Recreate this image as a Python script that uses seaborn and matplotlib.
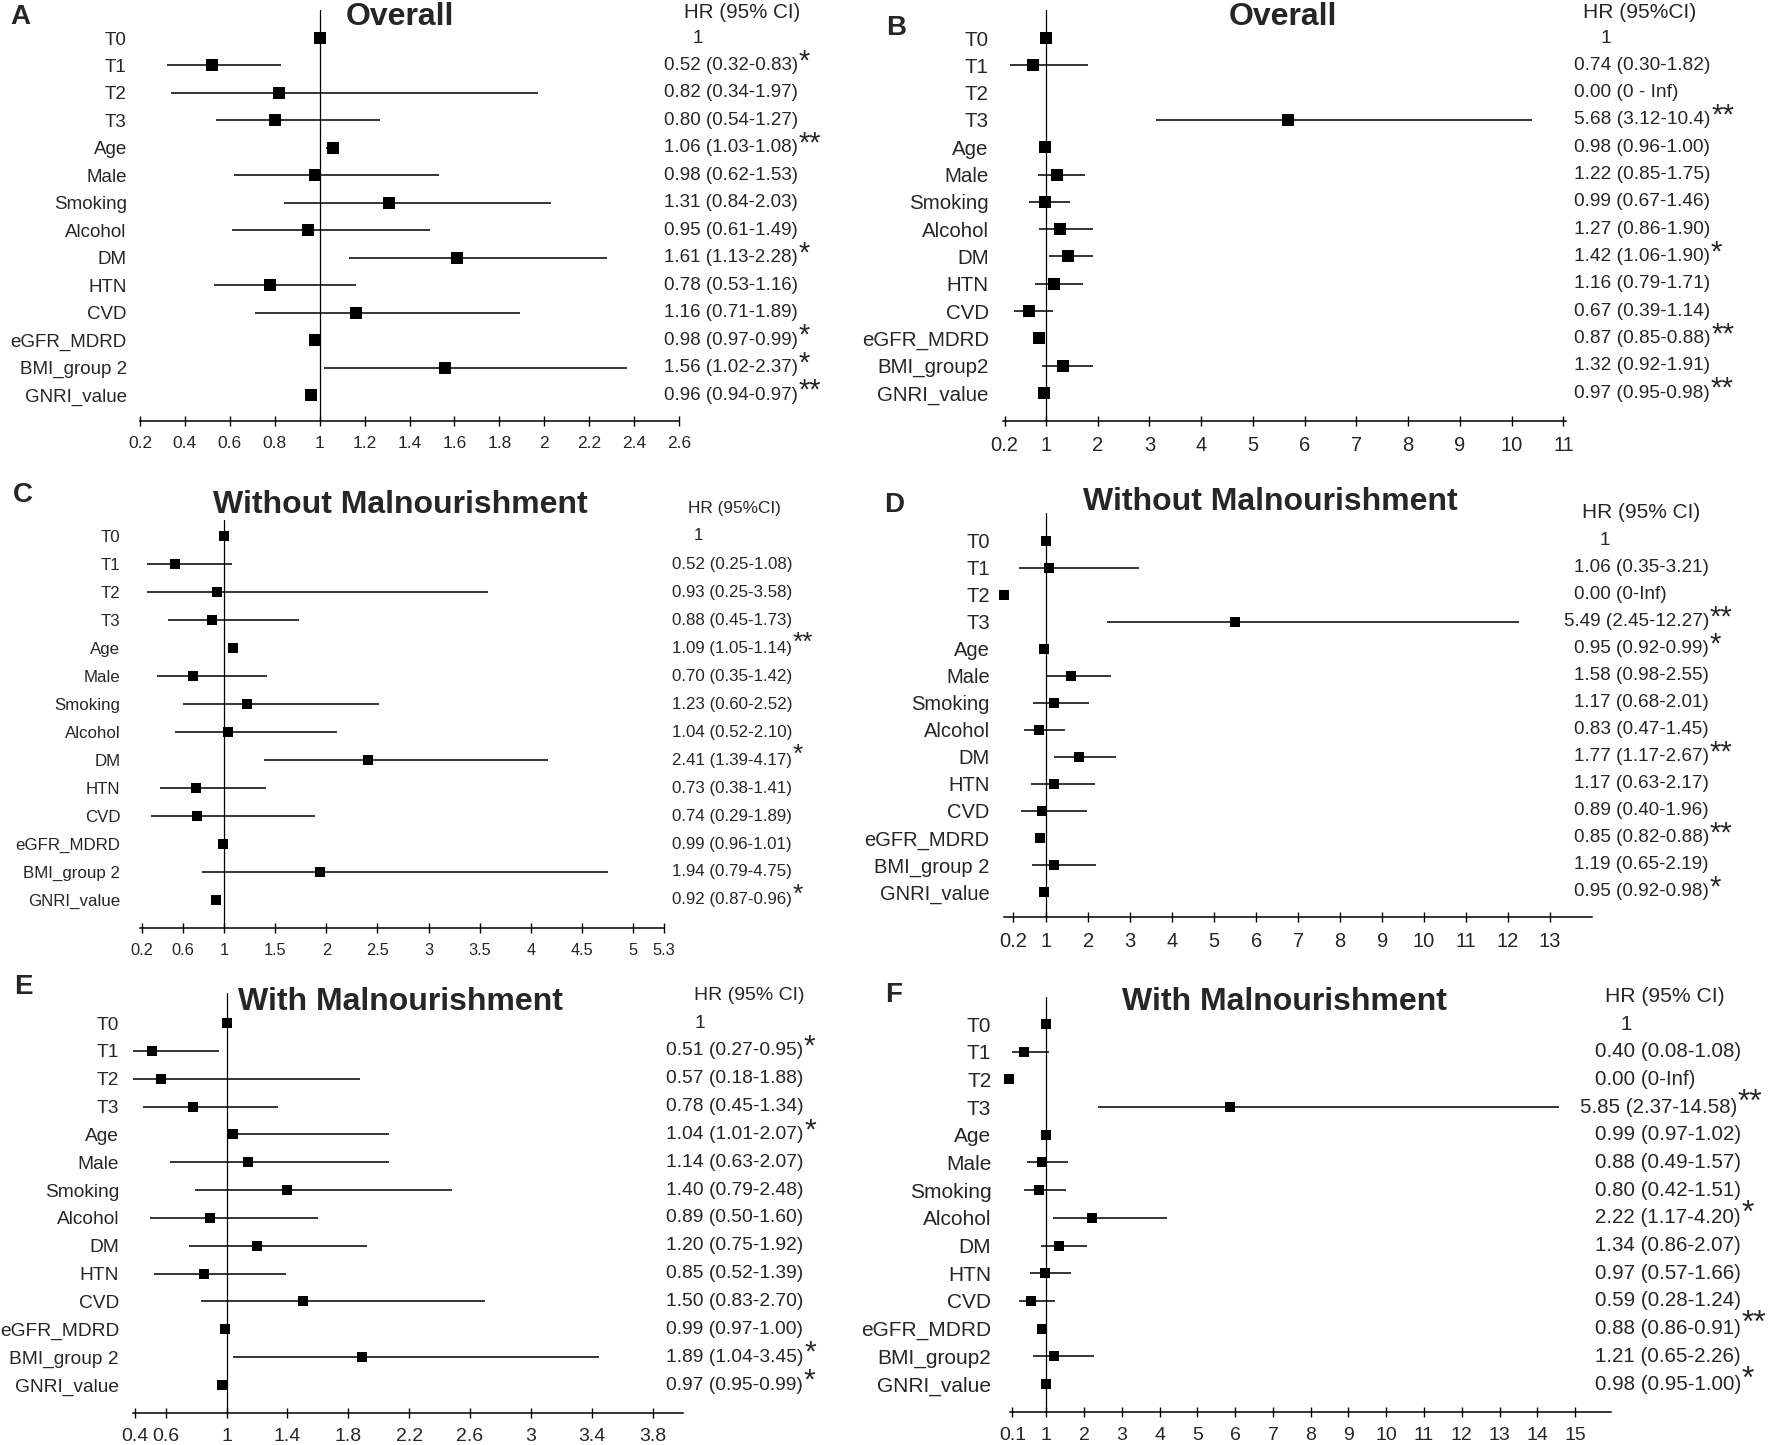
import numpy as np
import pandas as pd
import seaborn as sns
import matplotlib.pyplot as plt
from matplotlib import transforms

W, H = 1772, 1445
inf = np.inf

rows = ["T0", "T1", "T2", "T3", "Age", "Male", "Smoking", "Alcohol", "DM",
        "HTN", "CVD", "eGFR_MDRD", "BMI_group 2", "GNRI_value"]
rows_b = ["T0", "T1", "T2", "T3", "Age", "Male", "Smoking", "Alcohol", "DM",
          "HTN", "CVD", "eGFR_MDRD", "BMI_group2", "GNRI_value"]

# A - Overall (left)
a_hr = [1, 0.52, 0.82, 0.80, 1.06, 0.98, 1.31, 0.95, 1.61, 0.78, 1.16, 0.98, 1.56, 0.96]
a_lo = [1, 0.32, 0.34, 0.54, 1.03, 0.62, 0.84, 0.61, 1.13, 0.53, 0.71, 0.97, 1.02, 0.94]
a_hi = [1, 0.83, 1.97, 1.27, 1.08, 1.53, 2.03, 1.49, 2.28, 1.16, 1.89, 0.99, 2.37, 0.97]
a_txt = ["1", "0.52 (0.32-0.83)", "0.82 (0.34-1.97)", "0.80 (0.54-1.27)", "1.06 (1.03-1.08)",
         "0.98 (0.62-1.53)", "1.31 (0.84-2.03)", "0.95 (0.61-1.49)", "1.61 (1.13-2.28)",
         "0.78 (0.53-1.16)", "1.16 (0.71-1.89)", "0.98 (0.97-0.99)", "1.56 (1.02-2.37)",
         "0.96 (0.94-0.97)"]
a_sig = ["", "*", "", "", "**", "", "", "", "*", "", "", "*", "*", "**"]

# B - Overall (right)
b_hr = [1, 0.74, 0.00, 5.68, 0.98, 1.22, 0.99, 1.27, 1.42, 1.16, 0.67, 0.87, 1.32, 0.97]
b_lo = [1, 0.30, 0, 3.12, 0.96, 0.85, 0.67, 0.86, 1.06, 0.79, 0.39, 0.85, 0.92, 0.95]
b_hi = [1, 1.82, inf, 10.4, 1.00, 1.75, 1.46, 1.90, 1.90, 1.71, 1.14, 0.88, 1.91, 0.98]
b_txt = ["1", "0.74 (0.30-1.82)", "0.00 (0 - Inf)", "5.68 (3.12-10.4)", "0.98 (0.96-1.00)",
         "1.22 (0.85-1.75)", "0.99 (0.67-1.46)", "1.27 (0.86-1.90)", "1.42 (1.06-1.90)",
         "1.16 (0.79-1.71)", "0.67 (0.39-1.14)", "0.87 (0.85-0.88)", "1.32 (0.92-1.91)",
         "0.97 (0.95-0.98)"]
b_sig = ["", "", "", "**", "", "", "", "", "*", "", "", "**", "", "**"]

# C - Without malnourishment (left)
c_hr = [1, 0.52, 0.93, 0.88, 1.09, 0.70, 1.23, 1.04, 2.41, 0.73, 0.74, 0.99, 1.94, 0.92]
c_lo = [1, 0.25, 0.25, 0.45, 1.05, 0.35, 0.60, 0.52, 1.39, 0.38, 0.29, 0.96, 0.79, 0.87]
c_hi = [1, 1.08, 3.58, 1.73, 1.14, 1.42, 2.52, 2.10, 4.17, 1.41, 1.89, 1.01, 4.75, 0.96]
c_txt = ["1", "0.52 (0.25-1.08)", "0.93 (0.25-3.58)", "0.88 (0.45-1.73)", "1.09 (1.05-1.14)",
         "0.70 (0.35-1.42)", "1.23 (0.60-2.52)", "1.04 (0.52-2.10)", "2.41 (1.39-4.17)",
         "0.73 (0.38-1.41)", "0.74 (0.29-1.89)", "0.99 (0.96-1.01)", "1.94 (0.79-4.75)",
         "0.92 (0.87-0.96)"]
c_sig = ["", "", "", "", "**", "", "", "", "*", "", "", "", "", "*"]

# D - Without malnourishment (right)
d_hr = [1, 1.06, 0.00, 5.49, 0.95, 1.58, 1.17, 0.83, 1.77, 1.17, 0.89, 0.85, 1.19, 0.95]
d_lo = [1, 0.35, 0, 2.45, 0.92, 0.98, 0.68, 0.47, 1.17, 0.63, 0.40, 0.82, 0.65, 0.92]
d_hi = [1, 3.21, inf, 12.27, 0.99, 2.55, 2.01, 1.45, 2.67, 2.17, 1.96, 0.88, 2.19, 0.98]
d_txt = ["1", "1.06 (0.35-3.21)", "0.00 (0-Inf)", "5.49 (2.45-12.27)", "0.95 (0.92-0.99)",
         "1.58 (0.98-2.55)", "1.17 (0.68-2.01)", "0.83 (0.47-1.45)", "1.77 (1.17-2.67)",
         "1.17 (0.63-2.17)", "0.89 (0.40-1.96)", "0.85 (0.82-0.88)", "1.19 (0.65-2.19)",
         "0.95 (0.92-0.98)"]
d_sig = ["", "", "", "**", "*", "", "", "", "**", "", "", "**", "", "*"]

# E - With malnourishment (left)
e_hr = [1, 0.51, 0.57, 0.78, 1.04, 1.14, 1.40, 0.89, 1.20, 0.85, 1.50, 0.99, 1.89, 0.97]
e_lo = [1, 0.27, 0.18, 0.45, 1.01, 0.63, 0.79, 0.50, 0.75, 0.52, 0.83, 0.97, 1.04, 0.95]
e_hi = [1, 0.95, 1.88, 1.34, 2.07, 2.07, 2.48, 1.60, 1.92, 1.39, 2.70, 1.00, 3.45, 0.99]
e_txt = ["1", "0.51 (0.27-0.95)", "0.57 (0.18-1.88)", "0.78 (0.45-1.34)", "1.04 (1.01-2.07)",
         "1.14 (0.63-2.07)", "1.40 (0.79-2.48)", "0.89 (0.50-1.60)", "1.20 (0.75-1.92)",
         "0.85 (0.52-1.39)", "1.50 (0.83-2.70)", "0.99 (0.97-1.00)", "1.89 (1.04-3.45)",
         "0.97 (0.95-0.99)"]
e_sig = ["", "*", "", "", "*", "", "", "", "", "", "", "", "*", "*"]

# F - With malnourishment (right)
f_hr = [1, 0.40, 0.00, 5.85, 0.99, 0.88, 0.80, 2.22, 1.34, 0.97, 0.59, 0.88, 1.21, 0.98]
f_lo = [1, 0.08, 0, 2.37, 0.97, 0.49, 0.42, 1.17, 0.86, 0.57, 0.28, 0.86, 0.65, 0.95]
f_hi = [1, 1.08, inf, 14.58, 1.02, 1.57, 1.51, 4.20, 2.07, 1.66, 1.24, 0.91, 2.26, 1.00]
f_txt = ["1", "0.40 (0.08-1.08)", "0.00 (0-Inf)", "5.85 (2.37-14.58)", "0.99 (0.97-1.02)",
         "0.88 (0.49-1.57)", "0.80 (0.42-1.51)", "2.22 (1.17-4.20)", "1.34 (0.86-2.07)",
         "0.97 (0.57-1.66)", "0.59 (0.28-1.24)", "0.88 (0.86-0.91)", "1.21 (0.65-2.26)",
         "0.98 (0.95-1.00)"]
f_sig = ["", "", "", "**", "", "", "", "*", "", "", "", "**", "", "*"]

a_ticks = [0.2, 0.4, 0.6, 0.8, 1, 1.2, 1.4, 1.6, 1.8, 2, 2.2, 2.4, 2.6]
b_ticks = [0.2, 1, 2, 3, 4, 5, 6, 7, 8, 9, 10, 11]
c_ticks = [0.2, 0.6, 1, 1.5, 2, 2.5, 3, 3.5, 4, 4.5, 5, 5.3]
d_ticks = [0.2, 1, 2, 3, 4, 5, 6, 7, 8, 9, 10, 11, 12, 13]
e_ticks = [0.4, 0.6, 1, 1.4, 1.8, 2.2, 2.6, 3, 3.4, 3.8]
f_ticks = [0.1, 1, 2, 3, 4, 5, 6, 7, 8, 9, 10, 11, 12, 13, 14, 15]

sns.set_theme(style="white")
plt.rcParams["font.family"] = ["Liberation Sans", "DejaVu Sans"]

fig = plt.figure(figsize=(W / 100, H / 100), dpi=100)

# layout in pixels: box = (left, right, top, bottom), rows = (T0 y, last y)
# shift = per-row x nudge (px) of the long HR strings
panels = [
    dict(letter="A", title="Overall", head="HR (95% CI)", labels=rows,
         hr=a_hr, lo=a_lo, hi=a_hi, txt=a_txt, sig=a_sig, ticks=a_ticks,
         box=(140, 679, 10, 421), xlim=(0.2, 2.6), bounds=(0.2, 2.6), rows=(38, 395),
         letter_xy=(20, 17), title_xy=(400, 17), head_xy=(742, 12), tx=664, one_x=698,
         lab_fs=13.5, txt_fs=13.5, tick_fs=12.5, head_fs=14.8, ms=63, pad=9.5, shift={}),
    dict(letter="B", title="Overall", head="HR (95%CI)", labels=rows_b,
         hr=b_hr, lo=b_lo, hi=b_hi, txt=b_txt, sig=b_sig, ticks=b_ticks,
         box=(1002, 1566, 10, 421), xlim=(0.15, 11.05), bounds=(0.17, 11.05), rows=(38, 393),
         letter_xy=(896, 28), title_xy=(1283, 17), head_xy=(1640, 12), tx=1574, one_x=1606,
         lab_fs=14.8, txt_fs=13.8, tick_fs=14.5, head_fs=15.1, ms=69, pad=9.5, shift={}),
    dict(letter="C", title="Without Malnourishment", head="HR (95%CI)", labels=rows,
         hr=c_hr, lo=c_lo, hi=c_hi, txt=c_txt, sig=c_sig, ticks=c_ticks,
         box=(139, 664, 520, 928), xlim=(0.17, 5.3), bounds=(0.18, 5.3), rows=(536, 900),
         letter_xy=(23, 495), title_xy=(400, 505), head_xy=(734, 508), tx=672, one_x=698,
         lab_fs=12.2, txt_fs=12.2, tick_fs=11.8, head_fs=12.4, ms=44, pad=13.5, shift={}),
    dict(letter="D", title="Without Malnourishment", head="HR (95% CI)", labels=rows,
         hr=d_hr, lo=d_lo, hi=d_hi, txt=d_txt, sig=d_sig, ticks=d_ticks,
         box=(996, 1592, 513, 917), xlim=(-0.2, 14.0), bounds=(0.0, 14.0), rows=(541, 892),
         letter_xy=(894, 505), title_xy=(1270, 502), head_xy=(1641, 513), tx=1574, one_x=1605,
         lab_fs=14.5, txt_fs=13.6, tick_fs=14.5, head_fs=15, ms=59, pad=4.5, shift={3: -10}),
    dict(letter="E", title="With Malnourishment", head="HR (95% CI)", labels=rows,
         hr=e_hr, lo=e_lo, hi=e_hi, txt=e_txt, sig=e_sig, ticks=e_ticks,
         box=(133, 683, 993, 1413), xlim=(0.385, 4.0), bounds=(0.385, 4.0), rows=(1023, 1385),
         letter_xy=(23, 987), title_xy=(400, 1002), head_xy=(749, 996), tx=666, one_x=700,
         lab_fs=13.8, txt_fs=13.9, tick_fs=14, head_fs=14, ms=48, pad=10, shift={}),
    dict(letter="F", title="With Malnourishment", head="HR (95% CI)", labels=rows_b,
         hr=f_hr, lo=f_lo, hi=f_hi, txt=f_txt, sig=f_sig, ticks=f_ticks,
         box=(1001, 1611, 997, 1412), xlim=(-0.2, 15.95), bounds=(0.05, 15.95), rows=(1024, 1384),
         letter_xy=(894, 995), title_xy=(1284, 1002), head_xy=(1665, 997), tx=1595, one_x=1626,
         lab_fs=15, txt_fs=14.8, tick_fs=14, head_fs=15.2, ms=59, pad=7, shift={3: -15}),
]


def forest(p):
    left, right, top, bottom = p["box"]
    ax = fig.add_axes([left / W, 1 - bottom / H, (right - left) / W, (bottom - top) / H])
    ax.patch.set_alpha(0)
    n = len(p["labels"])
    df = pd.DataFrame({"row": np.arange(n), "label": p["labels"],
                       "hr": p["hr"], "lo": p["lo"], "hi": p["hi"]})

    ax.axvline(1, color="black", lw=0.9, zorder=1)
    ci = df[np.isfinite(df["hi"]) & (df["hi"] > df["lo"])]
    ax.hlines(ci["row"], ci["lo"], ci["hi"], color="black", lw=1.1, zorder=2)
    sns.scatterplot(data=df, x="hr", y="row", marker="s", color="black",
                    s=p["ms"], linewidth=0, legend=False, zorder=3, ax=ax)

    y0, y1 = p["rows"]
    step = (y1 - y0) / (n - 1)
    ax.set_ylim((n - 1) + (bottom - y1) / step, -(y0 - top) / step)
    ax.set_xlim(*p["xlim"])
    ax.set_xlabel("")
    ax.set_ylabel("")

    ax.set_yticks(df["row"])
    ax.set_yticklabels(df["label"], fontsize=p["lab_fs"])
    ax.tick_params(axis="y", length=0, pad=p["pad"])
    ax.set_xticks(p["ticks"])
    ax.set_xticklabels(["%g" % t for t in p["ticks"]], fontsize=p["tick_fs"])
    ax.tick_params(axis="x", direction="inout", length=7, width=1, color="black",
                   pad=7, bottom=True)
    for s in ["left", "right", "top"]:
        ax.spines[s].set_visible(False)
    ax.spines["bottom"].set_color("black")
    ax.spines["bottom"].set_linewidth(1.1)
    ax.spines["bottom"].set_bounds(*p["bounds"])

    trans = transforms.blended_transform_factory(fig.transFigure, ax.transData)
    for i in range(n):
        if i == 0:
            ax.text(p["one_x"] / W, i, p["txt"][i], transform=trans, ha="center",
                    va="center", fontsize=p["txt_fs"], clip_on=False)
            continue
        x = (p["tx"] + p["shift"].get(i, 0)) / W
        t = ax.text(x, i, p["txt"][i], transform=trans, ha="left",
                    va="center", fontsize=p["txt_fs"], clip_on=False)
        if p["sig"][i]:
            ax.annotate(p["sig"][i], xy=(1, 1), xycoords=t, xytext=(0.5, 7),
                        textcoords="offset points", ha="left", va="top",
                        fontsize=p["txt_fs"] * 1.55, annotation_clip=False)

    fig.text(p["letter_xy"][0] / W, 1 - p["letter_xy"][1] / H, p["letter"],
             ha="center", va="center", fontsize=20, fontweight="bold")
    fig.text(p["title_xy"][0] / W, 1 - p["title_xy"][1] / H, p["title"],
             ha="center", va="center", fontsize=23, fontweight="bold")
    fig.text(p["head_xy"][0] / W, 1 - p["head_xy"][1] / H, p["head"],
             ha="center", va="center", fontsize=p["head_fs"])


for p in panels:
    forest(p)

fig.savefig("out.png", dpi=100, facecolor="white")
